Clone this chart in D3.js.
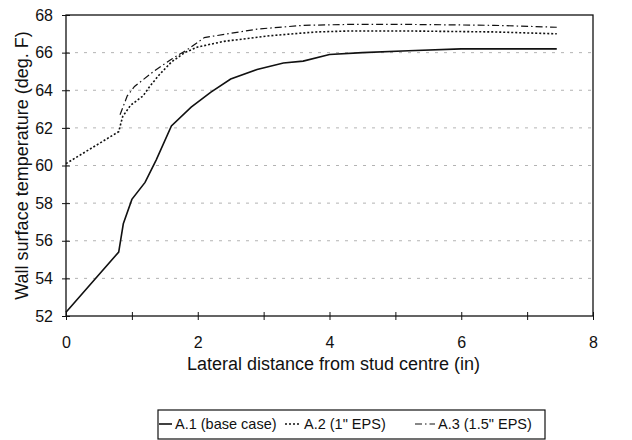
<!DOCTYPE html>
<html>
<head>
<meta charset="utf-8">
<script src="https://cdn.jsdelivr.net/npm/d3@7"></script>
<style>
  body { margin: 0; background: #fff; }
  text { font-family: "Liberation Sans", Arial, sans-serif; fill: #111; }
</style>
</head>
<body>
<script>
// values
const a1_x = [0, 0.8, 0.87, 1.0, 1.2, 1.37, 1.6, 1.9, 2.2, 2.5, 2.9, 3.3, 3.6, 4.0, 4.5, 5.2, 6.0, 7.45]
const a1_y = [52.2, 55.4, 56.9, 58.2, 59.1, 60.3, 62.1, 63.1, 63.9, 64.6, 65.1, 65.45, 65.55, 65.9, 66.0, 66.1, 66.2, 66.2]

const a2_x = [0, 0.8, 0.86, 0.98, 1.17, 1.27, 1.41, 1.6, 1.8, 2.0, 2.4, 3.1, 3.8, 4.3, 5.2, 6.5, 7.45]
const a2_y = [60.1, 61.8, 62.6, 63.2, 63.7, 64.2, 64.8, 65.5, 66.0, 66.3, 66.6, 66.9, 67.1, 67.15, 67.15, 67.1, 67.0]

const a3_x = [0.82, 0.93, 1.04, 1.33, 1.6, 1.86, 2.1, 2.9, 3.6, 4.3, 5.2, 6.5, 7.45]
const a3_y = [62.7, 63.7, 64.2, 65.0, 65.65, 66.2, 66.8, 67.25, 67.45, 67.5, 67.5, 67.45, 67.35]

const series_names = ["A.1 (base case)", "A.2 (1\" EPS)", "A.3 (1.5\" EPS)"]
const x_ticks = [0, 1, 2, 3, 4, 5, 6, 7, 8]
const x_labels = [0, 2, 4, 6, 8]
const y_ticks = [52, 54, 56, 58, 60, 62, 64, 66, 68]
const grid_vals = [54, 56, 58, 60, 62, 64, 66]

const dims = { w: 632, h: 440, pl: 66, pr: 39, pt: 15, pb: 124 }

const series = [
  { name: series_names[0], pts: a1_x.map((x, i) => [x, a1_y[i]]), dash: null, width: 1.6 },
  { name: series_names[1], pts: a2_x.map((x, i) => [x, a2_y[i]]), dash: "2,2", width: 1.6 },
  { name: series_names[2], pts: a3_x.map((x, i) => [x, a3_y[i]]), dash: "7,3,1.5,3", width: 1.2 }
]

const svg = d3.select("body").append("svg")
  .attr("width", dims.w)
  .attr("height", dims.h)

const xScale = d3.scaleLinear().domain([0, 8]).range([dims.pl, dims.w - dims.pr])
const yScale = d3.scaleLinear().domain([52, 68]).range([dims.h - dims.pb, dims.pt])

// faint dashed gridlines
svg.append("g")
  .selectAll("line")
  .data(grid_vals)
  .enter()
  .append("line")
  .attr("x1", xScale(0)).attr("x2", xScale(8))
  .attr("y1", d => yScale(d)).attr("y2", d => yScale(d))
  .attr("stroke", "#a0a0a0")
  .attr("stroke-width", 0.8)
  .attr("stroke-dasharray", "3,6")

// frame
svg.append("rect")
  .attr("x", xScale(0)).attr("y", yScale(68))
  .attr("width", xScale(8) - xScale(0))
  .attr("height", yScale(52) - yScale(68))
  .attr("fill", "none")
  .attr("stroke", "#111")
  .attr("stroke-width", 1.3)

const yAxis = d3.axisLeft(yScale)
  .tickValues(y_ticks)
  .tickSizeInner(4)
  .tickSizeOuter(0)
  .tickPadding(9)

svg.append("g")
  .attr("transform", `translate(${dims.pl}, 0)`)
  .call(yAxis)
  .call(g => g.select(".domain").remove())
  .call(g => g.selectAll("line").attr("x2", 4).attr("x1", -4).attr("stroke", "#111"))
  .call(g => g.selectAll("text").attr("font-size", 16).attr("fill", "#111"))

const xAxis = d3.axisBottom(xScale)
  .tickValues(x_ticks)
  .tickSizeInner(4)
  .tickSizeOuter(0)
  .tickPadding(17)
  .tickFormat(d => x_labels.includes(d) ? d : "")

svg.append("g")
  .attr("transform", `translate(0, ${dims.h - dims.pb})`)
  .call(xAxis)
  .call(g => g.select(".domain").remove())
  .call(g => g.selectAll("line").attr("y1", -4).attr("y2", 4).attr("stroke", "#111"))
  .call(g => g.selectAll("text").attr("font-size", 16).attr("fill", "#111"))

const line = d3.line()
  .x(d => xScale(d[0]))
  .y(d => yScale(d[1]))

svg.append("g")
  .selectAll("path")
  .data(series)
  .enter()
  .append("path")
  .attr("d", d => line(d.pts))
  .attr("fill", "none")
  .attr("stroke", "#111")
  .attr("stroke-width", d => d.width)
  .attr("stroke-dasharray", d => d.dash)

// axis titles
svg.append("text")
  .attr("x", (xScale(0) + xScale(8)) / 2 + 4)
  .attr("y", 370)
  .attr("text-anchor", "middle")
  .attr("font-size", 18)
  .text("Lateral distance from stud centre (in)")

svg.append("text")
  .attr("transform", `translate(28, ${(yScale(52) + yScale(68)) / 2}) rotate(-90)`)
  .attr("text-anchor", "middle")
  .attr("font-size", 18)
  .text("Wall surface temperature (deg. F)")

// legend
const legend = svg.append("g")
  .attr("transform", "translate(158, 410)")

legend.append("rect")
  .attr("width", 387)
  .attr("height", 29)
  .attr("fill", "none")
  .attr("stroke", "#111")
  .attr("stroke-width", 1.2)

const item_x = [17, 146, 280]
const sample_w = [13, 16, 20]
const items = legend.selectAll("g.item")
  .data(series)
  .enter()
  .append("g")
  .attr("class", "item")
  .attr("transform", (d, i) => `translate(${item_x[i]}, 0)`)

items.append("line")
  .attr("x1", (d, i) => -3 - sample_w[i]).attr("x2", -3)
  .attr("y1", 14).attr("y2", 14)
  .attr("stroke", "#111")
  .attr("stroke-width", d => d.width)
  .attr("stroke-dasharray", d => d.dash)

items.append("text")
  .attr("x", 0)
  .attr("y", 19)
  .attr("font-size", 14.5)
  .text(d => d.name)
</script>
</body>
</html>
